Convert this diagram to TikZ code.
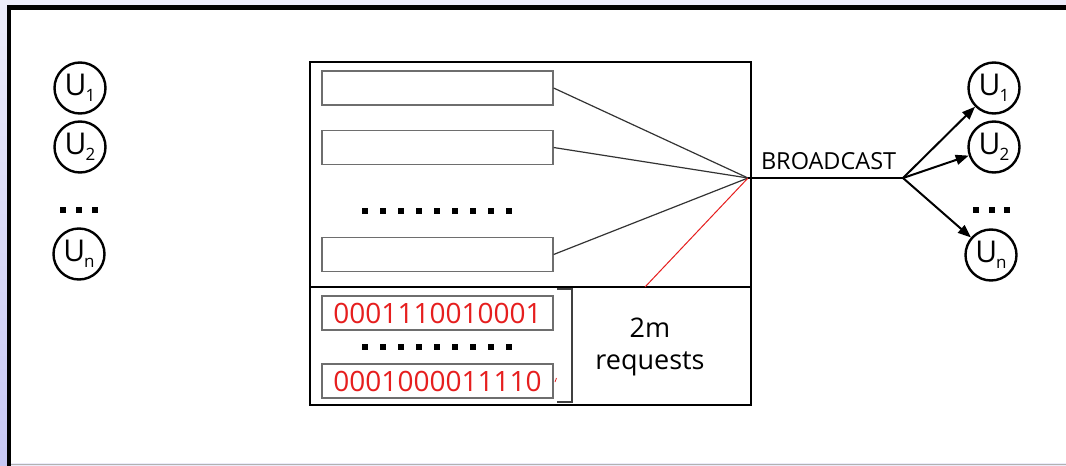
\documentclass[tikz,border=0pt]{standalone}
\usepackage{fontspec}
\setmainfont{Open Sans}
\usetikzlibrary{arrows.meta}
\definecolor{lavtop}{RGB}{236,236,250}
\definecolor{lavbot}{RGB}{200,200,245}
\definecolor{boxgray}{RGB}{110,110,110}
\definecolor{bitred}{RGB}{230,30,30}
\tikzset{
  user/.style={circle, draw, line width=2.4pt, minimum size=51pt, inner sep=0pt,
               font=\fontsize{30}{30}\selectfont},
  slot/.style={draw=boxgray, line width=1.2pt, minimum width=231pt, minimum height=34pt,
               inner sep=0pt, fill=white},
  bits/.style={slot, text=bitred, font=\fontsize{28}{28}\selectfont},
  fan/.style={draw=black!80, line width=1.2pt},
  send/.style={draw, line width=2pt, -{Triangle[length=13pt,width=10pt]}},
  caption/.style={font=\fontsize{27}{27}\selectfont, inner sep=0pt},
}
\newcommand{\usr}[1]{U\kern-1pt\raisebox{-6pt}{\fontsize{17}{17}\selectfont #1}}
\begin{document}
\begin{tikzpicture}[x=1pt,y=-1pt]
  % page background and frame
  \useasboundingbox (0,0) rectangle (1066,466);
  \fill[lavtop] (0,0) rectangle (1066,466);
  \shade[top color=lavtop, bottom color=lavbot] (0,0) rectangle (8,466);
  \fill[white] (11,10) rectangle (1066,463);
  \fill[black] (7,5) rectangle (1066,10);
  \fill[black] (7,5) rectangle (11,466);
  \draw[gray!60, line width=1.5pt] (11,464.5) -- (1066,464.5);

  % users on the left
  \node[user] (L1) at (80,88) {\usr{1}};
  \node[user] (L2) at (80,147) {\usr{2}};
  \node[user] (Ln) at (79,254) {\usr{n}};
  \foreach \x in {63,79,95} \fill (\x-3,207) rectangle (\x+3,213);

  % server box
  \node[draw, line width=2pt, minimum width=441pt, minimum height=343pt, inner sep=0pt]
    (box) at (530.5,233.5) {};
  \coordinate (divL) at (310,287);
  \coordinate (divR) at (751,287);
  \draw[line width=2pt] (divL) -- (divR);

  % data slots
  \node[slot] (s1) at (437.5,88) {};
  \node[slot] (s2) at (437.5,147.5) {};
  \node[slot] (s3) at (437.5,254.5) {};
  \foreach \i in {0,...,8} \fill (365+18*\i-3,208) rectangle (365+18*\i+3,214);

  % request vectors
  \node[bits] (q1) at (437.5,313) {0001110010001};
  \node[bits] (q2) at (437.5,381) {0001000011110};
  \foreach \i in {0,...,8} \fill (365+18*\i-3,344) rectangle (365+18*\i+3,350);
  \coordinate (bt) at (557,289);
  \coordinate (bb) at (557,402);
  \draw[black!75, line width=1.3pt] (bt) -- ++(15,0) |- (bb);
  \draw[bitred, line width=0.8pt] (555,382) -- (556.5,378);
  \node[caption] (twom) at (650,328) {2m};
  \node[caption] (req) at (650,364) {requests};

  % fan-in to the broadcast point
  \coordinate (hub) at (748,178);
  \coordinate (rsrc) at (645,287);
  \draw[fan] (s1.east) -- (hub);
  \draw[fan] (s2.east) -- (hub);
  \draw[fan] (s3.east) -- (hub);
  \draw[bitred, line width=1pt] (rsrc) -- (hub);

  % broadcast line
  \coordinate (split) at (903,178);
  \draw[line width=2pt] (hub) -- (split)
    node[pos=0.52, above=7pt, inner sep=0pt, font=\fontsize{23.5}{23.5}\selectfont] (bc) {BROADCAST};

  % users on the right
  \node[user] (R1) at (994,88) {\usr{1}};
  \node[user] (R2) at (994,147) {\usr{2}};
  \node[user] (Rn) at (991,255) {\usr{n}};
  \foreach \x in {976,992,1007} \fill (\x-3,207) rectangle (\x+3,213);
  \draw[send] (split) -- (R1);
  \draw[send] (split) -- (R2);
  \draw[send] (split) -- (Rn);
\end{tikzpicture}
\end{document}
